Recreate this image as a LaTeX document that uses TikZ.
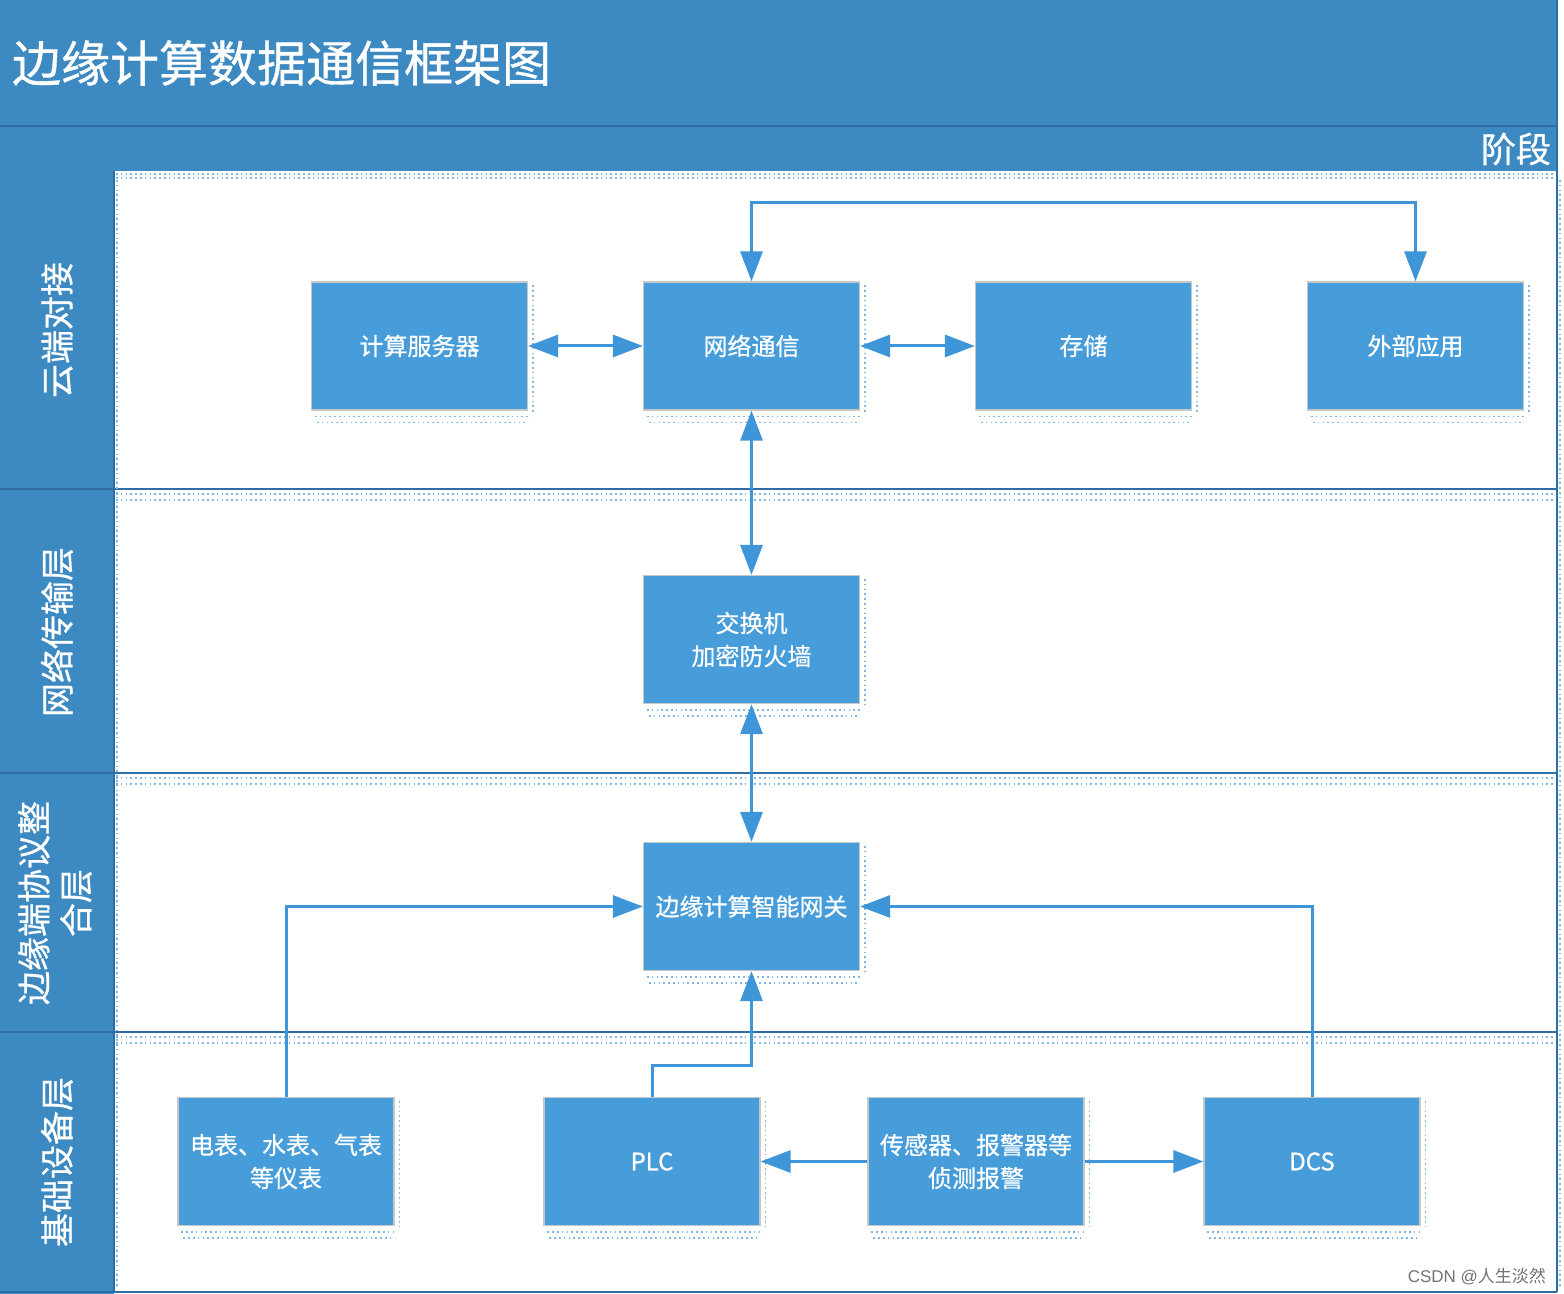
\documentclass[tikz,border=0pt]{standalone}
\usepackage{fontspec}
\setmainfont{Noto Sans CJK SC}
\newfontfamily\medfont[FakeBold=0.7]{Noto Sans CJK SC}
\newfontfamily\wmfont{Liberation Sans}
\usetikzlibrary{arrows.meta}
\definecolor{hdr}{HTML}{3D89C2}
\definecolor{hdrdark}{HTML}{2F6EA3}
\definecolor{boxfill}{HTML}{479CDA}
\definecolor{arr}{HTML}{3E96D8}
\definecolor{dotc}{HTML}{7FB6E6}
\tikzset{
  blk/.style={draw=black!22, line width=0.6pt, fill=boxfill, text=white, minimum width=108pt, minimum height=64pt, inner sep=0pt, align=center, font=\medfont\fontsize{12}{16.5}\selectfont},
  conn/.style={draw=arr, line width=1.5pt, -{Triangle[width=11pt,length=15pt]}},
  biconn/.style={draw=arr, line width=1.5pt, {Triangle[width=11pt,length=15pt]}-{Triangle[width=11pt,length=15pt]}},
  lanelbl/.style={text=white, rotate=90, align=center, font=\medfont\fontsize{17}{21}\selectfont},
  sep/.style={draw=hdrdark, line width=1.2pt},
  dots/.style={draw=dotc, line width=0.8pt, dash pattern=on 0.8pt off 1.6pt},
}
\begin{document}
\begin{tikzpicture}[x=0.5pt,y=-0.5pt]
\useasboundingbox (0,0) rectangle (1564,1294);
\fill[white] (0,0) rectangle (1564,1294);
% header
\fill[hdr] (0,0) rectangle (1557,171);
\draw[sep] (0,126) -- (1557,126);
\node[anchor=west, text=white, font=\medfont\fontsize{24.5}{28}\selectfont] (title) at (5,63) {边缘计算数据通信框架图};
\node[anchor=east, text=white, font=\medfont\fontsize{17.5}{20}\selectfont] (stage) at (1558,149) {阶段};
% left label column
\fill[hdr] (0,171) rectangle (114,1294);
\draw[sep] (114,171) -- (114,1292);
\draw[sep] (1557,0) -- (1557,1292);
\draw[sep] (0,1292) -- (1557,1292);
\foreach \yy in {489,773,1032}{
  \draw[sep] (0,\yy) -- (1557,\yy);
  \draw[dots] (116,\yy+5) -- (1555,\yy+5);
  \draw[dots] (116,\yy+11) -- (1555,\yy+11);
}
\draw[dots] (116,174) -- (1555,174);
\draw[dots] (116,178) -- (1555,178);
\draw[dots] (117,180) -- (117,1288);
\draw[dots] (1560,180) -- (1560,1288);
% lane labels
\node[lanelbl] (l1) at (57,330) {云端对接};
\node[lanelbl] (l2) at (57,632) {网络传输层};
\node[lanelbl] (l3) at (55,903) {边缘端协议整\\合层};
\node[lanelbl] (l4) at (57,1162) {基础设备层};
% boxes
\node[blk] (srv) at (419.5,346) {计算服务器};
\node[blk] (net) at (751.5,346) {网络通信};
\node[blk] (sto) at (1083.5,346) {存储};
\node[blk] (ext) at (1415.5,346) {外部应用};
\node[blk] (sw) at (751.5,639.5) {交换机\\加密防火墙};
\node[blk] (gw) at (751.5,906.5) {边缘计算智能网关};
\node[blk] (meter) at (286,1161.5) {电表、水表、气表\\等仪表};
\node[blk] (plc) at (652,1161.5) {PLC};
\node[blk] (sensor) at (976,1161.5) {传感器、报警器等\\侦测报警};
\node[blk] (dcs) at (1312,1161.5) {DCS};
% box shadow dots
\foreach \n in {srv,net,sto,ext,sw,gw,meter,plc,sensor,dcs}{
  \draw[dots] ([xshift=2pt,yshift=-3pt]\n.south west) -- ([xshift=1pt,yshift=-3pt]\n.south east);
  \draw[dots] ([xshift=3pt,yshift=-6pt]\n.south west) -- ([xshift=0pt,yshift=-6pt]\n.south east);
  \draw[dots] ([xshift=2.5pt,yshift=-2pt]\n.north east) -- ([xshift=2.5pt,yshift=-2pt]\n.south east);
}
% connectors
\draw[biconn] (srv.east) -- (net.west);
\draw[biconn] (net.east) -- (sto.west);
\draw[biconn] (net.north) -- (net.north |- 0,203) -| (ext.north);
\draw[biconn] (net.south) -- (sw.north);
\draw[biconn] (sw.south) -- (gw.north);
\draw[conn] (meter.north) |- (gw.west);
\draw[conn] (dcs.north) |- (gw.east);
\draw[conn] (plc.north) -- (plc.north |- 0,1065) -| (gw.south);
\draw[conn] (sensor.west) -- (plc.east);
\draw[conn] (sensor.east) -- (dcs.west);
% watermark
\node[anchor=east, text=black!55, font=\wmfont\fontsize{8.5}{10}\selectfont] (wm) at (1553,1276) {CSDN @\fontspec{Noto Sans CJK SC}人生淡然};
\end{tikzpicture}
\end{document}
